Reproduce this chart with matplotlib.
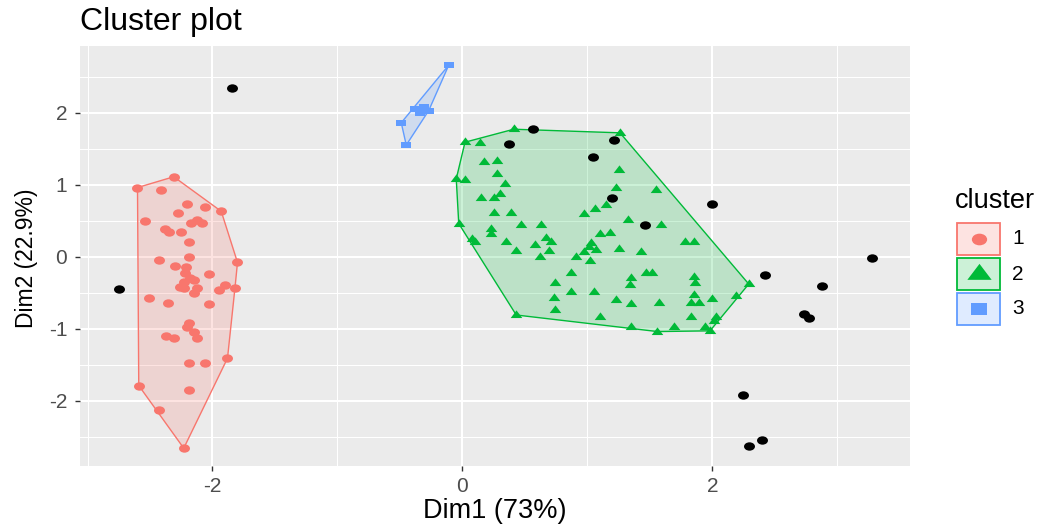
import numpy as np
import matplotlib
matplotlib.use("Agg")
import matplotlib.pyplot as plt
from matplotlib.path import Path
from matplotlib.markers import MarkerStyle
from matplotlib.patches import Polygon, Rectangle

plt.rcParams["font.family"] = ["Liberation Sans", "DejaVu Sans"]
plt.rcParams["axes.unicode_minus"] = False

# cluster 1
c1_x = [-2.31, -2.60, -2.41, -2.20, -2.06, -1.93, -2.28, -2.54, -2.17, -2.12,
        -2.08, -2.38, -2.35, -2.25, -2.19, -2.43, -2.19, -2.30, -1.80, -2.21,
        -2.22, -2.03, -2.18, -2.15, -2.23, -2.26, -2.12, -1.95, -1.90, -1.82,
        -2.23, -2.15, -2.51, -2.36, -2.03, -2.19, -2.20, -2.15, -2.12, -2.37,
        -2.31, -2.19, -2.06, -1.88, -2.59, -2.19, -2.43, -2.23]
c1_y = [1.11, 0.96, 0.92, 0.73, 0.69, 0.63, 0.60, 0.50, 0.47, 0.51,
        0.47, 0.39, 0.34, 0.34, 0.21, -0.04, 0.00, -0.13, -0.08, -0.14,
        -0.23, -0.24, -0.30, -0.32, -0.35, -0.42, -0.43, -0.46, -0.40, -0.43,
        -0.44, -0.51, -0.57, -0.64, -0.66, -0.92, -0.97, -1.04, -1.13, -1.10,
        -1.13, -1.47, -1.47, -1.41, -1.79, -1.85, -2.13, -2.66]

# cluster 2
c2_x = [0.41, 0.02, 0.14, 1.26, 0.17, 0.28, 0.28, 0.34, -0.05, 0.02,
        0.15, 0.25, 0.30, 0.25, 0.39, -0.03, 0.23, 0.23, 0.08, 0.10,
        0.47, 0.63, 0.35, 0.43, 0.58, 0.67, 0.71, 0.69, 0.62, 1.25,
        1.23, 1.55, 1.15, 1.06, 0.97, 1.32, 1.59, 1.10, 1.18, 1.03,
        1.01, 1.07, 0.97, 0.91, 1.02, 1.25, 1.43, 1.78, 1.85, 0.87,
        0.74, 1.47, 1.52, 1.35, 1.34, 1.85, 1.86, 2.29, 2.19, 0.87,
        1.05, 0.73, 1.23, 1.35, 1.57, 1.85, 1.83, 1.89, 2.00, 0.74,
        0.43, 1.10, 1.83, 2.03, 2.01, 1.35, 1.56, 1.69, 1.94, 1.98]
c2_y = [1.77, 1.59, 1.58, 1.72, 1.32, 1.33, 1.15, 1.01, 1.08, 1.07,
        0.81, 0.81, 0.87, 0.61, 0.61, 0.46, 0.39, 0.32, 0.24, 0.21,
        0.44, 0.44, 0.21, 0.08, 0.16, 0.26, 0.21, 0.08, 0.00, 1.20,
        0.95, 0.92, 0.72, 0.66, 0.59, 0.51, 0.44, 0.32, 0.33, 0.19,
        0.14, 0.09, 0.07, 0.00, -0.06, 0.10, 0.06, 0.21, 0.21, -0.23,
        -0.36, -0.23, -0.23, -0.30, -0.39, -0.28, -0.37, -0.38, -0.54, -0.49,
        -0.49, -0.58, -0.60, -0.66, -0.64, -0.53, -0.64, -0.65, -0.59, -0.74,
        -0.81, -0.84, -0.84, -0.84, -0.89, -0.98, -1.04, -0.98, -0.98, -1.03]

# cluster 3
c3_x = [-0.11, -0.38, -0.31, -0.27, -0.34, -0.49, -0.45]
c3_y = [2.66, 2.05, 2.08, 2.03, 1.99, 1.86, 1.55]

# points left out of every cluster
out_x = [-1.84, -2.75, 0.56, 0.37, 1.04, 1.21, 1.20, 1.46, 2.00, 2.42,
         2.88, 3.28, 2.73, 2.77, 2.24, 2.40, 2.29]
out_y = [2.34, -0.45, 1.77, 1.56, 1.38, 1.62, 0.81, 0.44, 0.73, -0.26,
         -0.41, -0.02, -0.79, -0.85, -1.92, -2.54, -2.63]

cluster_names = ["1", "2", "3"]
colors = ["#F8766D", "#00BA38", "#619CFF"]

# markers come out a little wider than tall
st = 1.31
circ = Path.unit_circle()
m_circle = MarkerStyle(Path(circ.vertices * [st, 1.0], circ.codes))
m_tri = MarkerStyle(Path([(-0.76, -1 / 3), (0.76, -1 / 3), (0, 2 / 3), (-0.76, -1 / 3)], closed=True))
m_sq = MarkerStyle(Path([(-0.5 * st, -0.5), (0.5 * st, -0.5), (0.5 * st, 0.5), (-0.5 * st, 0.5), (-0.5 * st, -0.5)], closed=True))
markers = [m_circle, m_tri, m_sq]
sizes = [7.9, 8.4, 6.6]
leg_sizes = [11.0, 17.5, 11.0]


def convex_hull(xs, ys):
    pts = sorted(set(zip(xs, ys)))

    def cross(o, a, b):
        return (a[0] - o[0]) * (b[1] - o[1]) - (a[1] - o[1]) * (b[0] - o[0])

    lower, upper = [], []
    for p in pts:
        while len(lower) >= 2 and cross(lower[-2], lower[-1], p) <= 0:
            lower.pop()
        lower.append(p)
    for p in reversed(pts):
        while len(upper) >= 2 and cross(upper[-2], upper[-1], p) <= 0:
            upper.pop()
        upper.append(p)
    return np.array(lower[:-1] + upper[:-1])


W, H = 1048, 529
fig = plt.figure(figsize=(W / 100, H / 100), dpi=100)
ax = fig.add_axes([80 / W, (H - 466) / H, 830 / W, 420.3 / H])
ax.set_facecolor("#EBEBEB")
for s in ax.spines.values():
    s.set_visible(False)

groups = [(c1_x, c1_y), (c2_x, c2_y), (c3_x, c3_y)]
for (gx, gy), col in zip(groups, colors):
    hull = convex_hull(gx, gy)
    ax.add_patch(Polygon(hull, closed=True, facecolor=col, alpha=0.2, edgecolor="none", zorder=2))
    ax.add_patch(Polygon(hull, closed=True, facecolor="none", edgecolor=col, lw=1.0, zorder=2.5))
for (gx, gy), col, mk, ms in zip(groups, colors, markers, sizes):
    ax.plot(gx, gy, ls="none", marker=mk, ms=ms, color=col, mew=0, zorder=3)
ax.plot(out_x, out_y, ls="none", marker=m_circle, ms=7.9, color="black", mew=0, zorder=4)

ax.set_xlim(-3.06, 3.58)
ax.set_ylim(-2.907, 2.93)
ax.set_xticks([-2, 0, 2])
ax.set_xticks([-3, -1, 1, 3], minor=True)
ax.set_yticks([-2, -1, 0, 1, 2])
ax.set_yticks([-2.5, -1.5, -0.5, 0.5, 1.5, 2.5], minor=True)
ax.set_axisbelow(True)
ax.grid(which="major", color="white", lw=1.5)
ax.grid(which="minor", color="white", lw=0.75)
ax.tick_params(which="major", length=3.6, width=1.0, color="#333333",
               labelsize=15, labelcolor="#4D4D4D", pad=4.5)
ax.tick_params(axis="y", which="major", pad=5.5)
ax.tick_params(which="minor", length=0)

fig.text(80 / W, (H - 30) / H, "Cluster plot", fontsize=23, va="baseline", ha="left")
fig.text(495 / W, (H - 518) / H, "Dim1 (73%)", fontsize=19.5, va="baseline", ha="center")
fig.text(27 / W, (H - 258) / H, "Dim2 (22.9%)", fontsize=16.5, rotation=90, va="center", ha="center")

# legend drawn in its own pixel-space axes
lg = fig.add_axes([940 / W, (H - 335) / H, 108 / W, 155 / H])
lg.set_xlim(940, 1048)
lg.set_ylim(335, 180)
lg.axis("off")
lg.text(955, 208, "cluster", fontsize=19.5, va="baseline", ha="left")
box_tops = [222.7, 258, 293]
for name, col, mk, ms, top in zip(cluster_names, colors, markers, leg_sizes, box_tops):
    lg.add_patch(Rectangle((957, top), 43, 32, facecolor=col, alpha=0.2, edgecolor="none"))
    lg.add_patch(Rectangle((957, top), 43, 32, facecolor="none", edgecolor=col, lw=1.3))
    lg.plot([978.5], [top + 16], ls="none", marker=mk, ms=ms, color=col, mew=0)
    lg.text(1012, top + 16, name, fontsize=15, va="center", ha="left")

fig.savefig("out.png", dpi=100)
